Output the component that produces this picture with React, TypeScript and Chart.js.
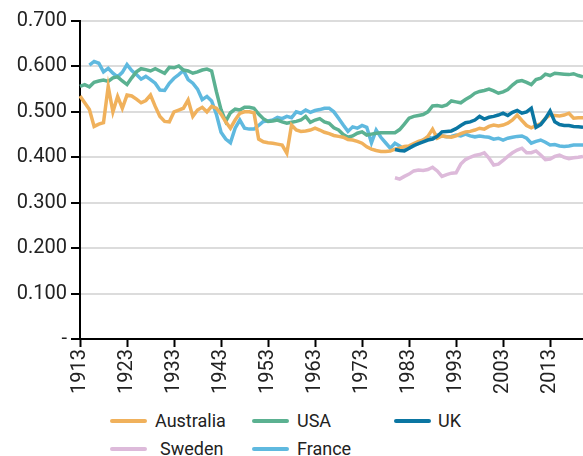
import React, { useEffect, useRef } from "react";
import { Chart, registerables } from "chart.js";

Chart.register(...registerables);

const firstYear = 1913;
const lastYear = 2020;
const years: string[] = [];
for (let y = firstYear; y <= lastYear; y++) years.push(String(y));

// Australia 1913-2020
const australia = [
  0.535, 0.52, 0.505, 0.468, 0.473, 0.476, 0.556, 0.5, 0.534, 0.508,
  0.537, 0.535, 0.528, 0.52, 0.525, 0.537, 0.512, 0.49, 0.479, 0.478,
  0.5, 0.504, 0.508, 0.526, 0.49, 0.504, 0.51, 0.5, 0.512, 0.508,
  0.495, 0.478, 0.464, 0.482, 0.497, 0.5, 0.5, 0.498, 0.44, 0.434,
  0.432, 0.431, 0.429, 0.427, 0.409, 0.471, 0.46, 0.457, 0.458, 0.46,
  0.464, 0.46, 0.455, 0.452,
  0.448, 0.446, 0.444, 0.439, 0.438, 0.435, 0.431, 0.423, 0.418, 0.415,
  0.413, 0.413, 0.414, 0.418, 0.42, 0.424, 0.425, 0.43, 0.435, 0.438,
  0.446, 0.462, 0.442, 0.447, 0.445, 0.444, 0.447, 0.452, 0.456, 0.457,
  0.46, 0.464, 0.462, 0.468, 0.471, 0.469, 0.471, 0.475, 0.482, 0.493,
  0.481, 0.47, 0.465, 0.47, 0.474, 0.486, 0.493, 0.492, 0.491, 0.493,
  0.497, 0.486, 0.487, 0.487,
];

// USA 1913-2020
const usa = [
  0.556, 0.56, 0.555, 0.565, 0.568, 0.57, 0.567, 0.575, 0.577, 0.568,
  0.56, 0.575, 0.588, 0.595, 0.593, 0.59, 0.595, 0.59, 0.585, 0.598,
  0.597, 0.601, 0.592, 0.59, 0.585,
  0.588, 0.592, 0.594, 0.59, 0.545, 0.505, 0.479, 0.498, 0.506, 0.504,
  0.51, 0.51, 0.508, 0.495, 0.485, 0.479, 0.48, 0.482, 0.478, 0.475,
  0.477, 0.479, 0.482, 0.49, 0.477, 0.482, 0.485, 0.478, 0.475,
  0.465, 0.46, 0.45, 0.444, 0.447, 0.453, 0.456, 0.449, 0.451, 0.453,
  0.454, 0.454, 0.454, 0.454, 0.461, 0.473, 0.486, 0.49, 0.492, 0.494,
  0.5, 0.513, 0.514, 0.512, 0.515, 0.524, 0.522, 0.52, 0.527, 0.533,
  0.541, 0.545, 0.547, 0.55, 0.546, 0.541, 0.544, 0.549, 0.559, 0.567,
  0.569, 0.565, 0.56, 0.571, 0.574, 0.583, 0.58, 0.585, 0.584, 0.583,
  0.582, 0.584, 0.58, 0.577,
];

// UK 1980-2020
const ukStart = 1980;
const uk = [
  0.417, 0.415, 0.414, 0.42, 0.426, 0.43, 0.434, 0.438, 0.44, 0.446,
  0.456, 0.457, 0.458, 0.463, 0.47, 0.476, 0.478, 0.482, 0.49, 0.484,
  0.488, 0.49, 0.493, 0.497, 0.492, 0.499, 0.503, 0.497, 0.5, 0.508,
  0.466, 0.472, 0.485, 0.502, 0.478, 0.472, 0.47, 0.47, 0.468, 0.467,
  0.466,
];

// Sweden 1980-2020
const swedenStart = 1980;
const sweden = [
  0.355, 0.352, 0.358, 0.363, 0.37, 0.372, 0.371, 0.373, 0.378, 0.37,
  0.358, 0.362, 0.365, 0.366, 0.385, 0.395, 0.4, 0.404, 0.406, 0.41,
  0.398, 0.383, 0.385, 0.393, 0.402, 0.41, 0.416, 0.42, 0.41, 0.41,
  0.414, 0.405, 0.395, 0.396, 0.402, 0.405, 0.4, 0.397, 0.399, 0.4,
  0.402,
];

// France 1915-2020
const franceStart = 1915;
const france = [
  0.603, 0.611, 0.607, 0.588, 0.596, 0.585, 0.577, 0.587, 0.604, 0.591,
  0.582, 0.572, 0.578, 0.571, 0.563, 0.548, 0.547, 0.563, 0.574, 0.582,
  0.591, 0.571, 0.563, 0.55, 0.527, 0.534, 0.524, 0.495, 0.455, 0.44,
  0.432, 0.464, 0.482, 0.464, 0.462, 0.462, 0.47, 0.479, 0.48, 0.482,
  0.488, 0.485, 0.49, 0.487, 0.5, 0.497, 0.504, 0.499, 0.503, 0.505,
  0.508, 0.508, 0.5, 0.486, 0.471, 0.457, 0.467, 0.464, 0.47, 0.466,
  0.432, 0.46, 0.444, 0.432, 0.42, 0.431, 0.425, 0.418, 0.42, 0.425,
  0.431, 0.438, 0.444, 0.442, 0.449, 0.447, 0.445, 0.446, 0.449, 0.447,
  0.451, 0.447, 0.445, 0.447, 0.445, 0.444, 0.44, 0.442, 0.438, 0.442,
  0.444, 0.446, 0.447, 0.442, 0.431, 0.435, 0.438, 0.433, 0.427, 0.428,
  0.425, 0.424, 0.425, 0.427, 0.427, 0.427,
];

const yTicks = [0, 0.1, 0.2, 0.3, 0.4, 0.5, 0.6, 0.7];

const pad = (start: number, vals: number[]) => {
  const out: (number | null)[] = [];
  for (let y = firstYear; y < start; y++) out.push(null);
  return out.concat(vals);
};

const series = [
  { label: "Australia", data: australia, start: 1913, color: "#F0B15C" },
  { label: "USA", data: usa, start: 1913, color: "#5BB191" },
  { label: "UK", data: uk, start: ukStart, color: "#0B76A2" },
  { label: "Sweden", data: sweden, start: swedenStart, color: "#DDBADA" },
  { label: "France", data: france, start: franceStart, color: "#5FB9DF" },
];

const legendPos = [
  { label: "Australia", color: "#F0B15C", x: 110, y: 421, tx: 155 },
  { label: "USA", color: "#5BB191", x: 252, y: 421, tx: 297 },
  { label: "UK", color: "#0B76A2", x: 394, y: 421, tx: 438 },
  { label: "Sweden", color: "#DDBADA", x: 110, y: 449, tx: 160 },
  { label: "France", color: "#5FB9DF", x: 252, y: 449, tx: 297 },
];

export default function App() {
  const ref = useRef<HTMLCanvasElement>(null);
  useEffect(() => {
    if (!ref.current) return;
    Chart.defaults.font.family = "Roboto";
    const chart = new Chart(ref.current, {
      type: "line",
      data: {
        labels: years,
        datasets: series.map((s, i) => ({
          label: s.label,
          data: pad(s.start, s.data),
          borderColor: s.color,
          backgroundColor: s.color,
          borderWidth: 3.5,
          pointRadius: 0,
          tension: 0,
          spanGaps: false,
          order: [3, 4, 1, 2, 5][i],
        })),
      },
      options: {
        responsive: false,
        animation: false,
        layout: { padding: { left: 0, right: 0, top: 21, bottom: 0 } },
        plugins: { legend: { display: false }, tooltip: { enabled: false } },
        scales: {
          x: {
            type: "category",
            grid: {
              drawOnChartArea: false,
              tickLength: 8,
              tickWidth: 2,
              tickColor: (ctx: any) => (ctx.index % 10 === 0 ? "#000" : "rgba(0,0,0,0)"),
            },
            border: { display: true, color: "#000", width: 2 },
            ticks: {
              autoSkip: false,
              maxRotation: 90,
              minRotation: 90,
              padding: 2,
              color: "#222",
              font: { size: 20 },
              callback: (_v: any, idx: number) => (idx % 10 === 0 ? years[idx] : ""),
            },
            afterFit: (scale: any) => {
              scale.height = 61;
              scale.paddingLeft = 0;
              scale.paddingRight = 0;
            },
          },
          y: {
            min: 0,
            max: 0.7,
            afterBuildTicks: (scale: any) => {
              scale.ticks = yTicks.map((v) => ({ value: v }));
            },
            grid: {
              color: "#DCDCDC",
              lineWidth: 2,
              tickLength: 9,
              tickColor: "#000",
              tickWidth: 2,
            },
            border: { display: true, color: "#000", width: 2 },
            ticks: {
              padding: 4,
              color: "#222",
              font: { size: 20 },
              callback: (v: any) => (Number(v) === 0 ? "-" : Number(v).toFixed(3)),
            },
            afterFit: (scale: any) => {
              scale.width = 80;
            },
          },
        },
      },
    });
    return () => chart.destroy();
  }, []);

  return (
    <div style={{ position: "absolute", left: 0, top: 0, width: 583, height: 456, overflow: "hidden", background: "#fff", fontFamily: "Roboto" }}>
      <canvas ref={ref} width={583} height={400} style={{ position: "absolute", left: 0, top: 0 }} />
      {legendPos.map((l) => (
        <React.Fragment key={l.label}>
          <div
            style={{
              position: "absolute",
              left: l.x,
              top: l.y - 2,
              width: 37,
              height: 4,
              borderRadius: 2,
              background: l.color,
            }}
          />
          <div
            style={{
              position: "absolute",
              left: l.tx,
              top: l.y - 9,
              fontSize: 18,
              lineHeight: "18px",
              color: "#222",
              whiteSpace: "nowrap",
            }}
          >
            {l.label}
          </div>
        </React.Fragment>
      ))}
    </div>
  );
}
